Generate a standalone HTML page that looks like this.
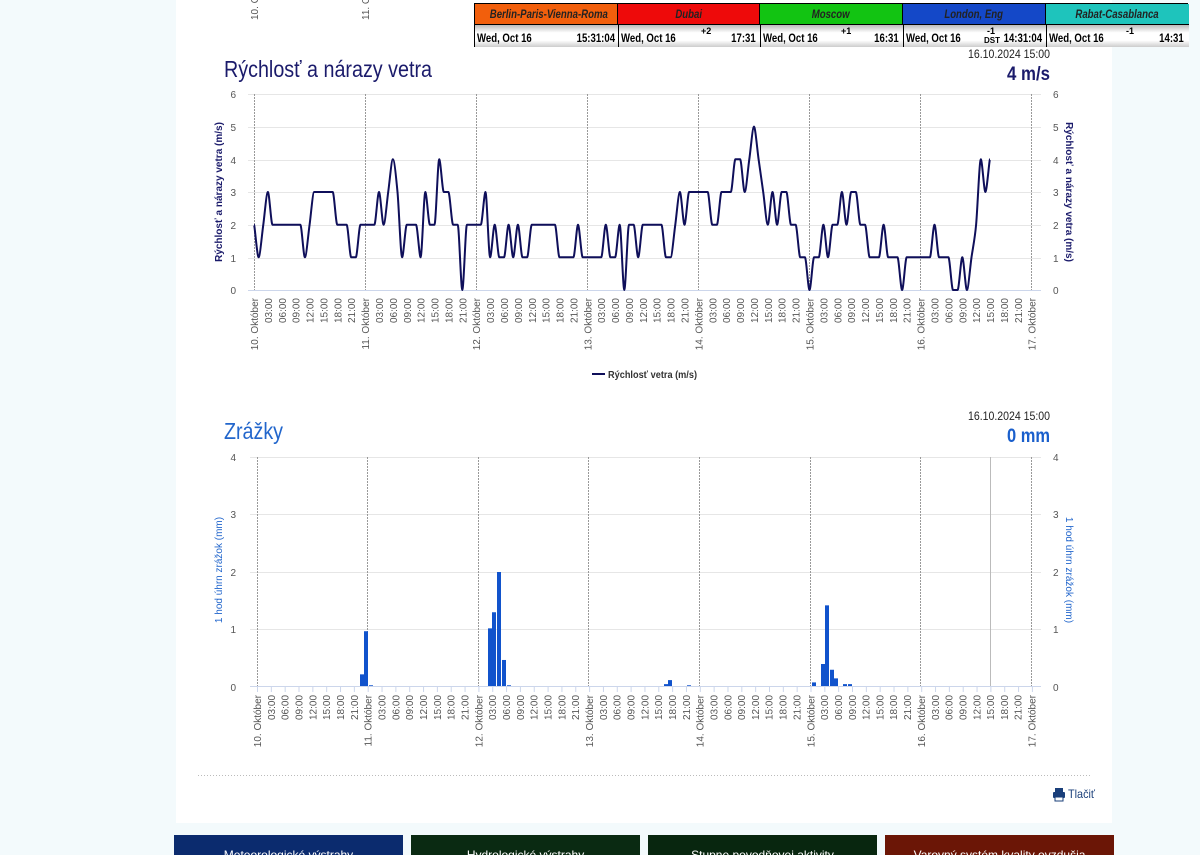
<!DOCTYPE html>
<html><head><meta charset="utf-8"><style>
html,body{margin:0;padding:0;}
body{width:1200px;height:850px;overflow:hidden;background:#f3fafc;font-family:"Liberation Sans",Arial,sans-serif;position:relative;}
#panel{position:absolute;left:176px;top:0;width:936px;height:823px;background:#fff;}
svg{position:absolute;left:0;top:0;}
.ax text{font-size:10px;fill:#555;}
.btn{position:absolute;top:835px;height:20px;width:229px;color:#fff;font-size:12px;text-align:center;line-height:40px;overflow:hidden;}
.clock{position:absolute;left:474px;top:3px;width:714px;height:44px;border:1px solid #000;box-sizing:border-box;}
.clock div{position:absolute;box-sizing:border-box;font-weight:bold;font-size:12px;white-space:nowrap;}
.clock span{display:inline-block;transform:scaleX(0.8);}
.n{transform:scaleX(0.8);transform-origin:left center;}
.nr{transform:scaleX(0.8);transform-origin:right center;}
</style></head><body>
<div id="panel"></div>
<div class="clock">
<div style="left:0;top:0;width:143px;height:20px;background:#f25f0c;font-style:italic;text-align:center;line-height:20px;color:#222;border-right:1px solid #000"><span>Berlin-Paris-Vienna-Roma</span></div>
<div style="left:143px;top:0;width:142px;height:20px;background:#ee0a0a;font-style:italic;text-align:center;line-height:20px;color:#222;border-right:1px solid #000"><span>Dubai</span></div>
<div style="left:285px;top:0;width:143px;height:20px;background:#12c412;font-style:italic;text-align:center;line-height:20px;color:#222;border-right:1px solid #000"><span>Moscow</span></div>
<div style="left:428px;top:0;width:143px;height:20px;background:#1448c8;font-style:italic;text-align:center;line-height:20px;color:#222;border-right:1px solid #000"><span>London, Eng</span></div>
<div style="left:571px;top:0;width:143px;height:20px;background:#1ec4bc;font-style:italic;text-align:center;line-height:20px;color:#222"><span>Rabat-Casablanca</span></div>
<div style="left:0;top:20px;width:714px;height:23px;border-top:1px solid #000;background:linear-gradient(#bbb,#fff 35%,#fff 70%,#ccc);"></div>
<div class="n" style="left:2px;top:27px;color:#000">Wed, Oct 16</div><div class="nr" style="right:572px;top:27px">15:31:04</div>
<div style="left:143px;top:20px;width:1px;height:23px;background:#000"></div>
<div class="n" style="left:146px;top:27px">Wed, Oct 16</div><div style="left:226px;top:22px;font-size:9px">+2</div><div class="nr" style="right:431px;top:27px">17:31</div>
<div style="left:285px;top:20px;width:1px;height:23px;background:#000"></div>
<div class="n" style="left:288px;top:27px">Wed, Oct 16</div><div style="left:366px;top:22px;font-size:9px">+1</div><div class="nr" style="right:288px;top:27px">16:31</div>
<div style="left:428px;top:20px;width:1px;height:23px;background:#000"></div>
<div class="n" style="left:431px;top:27px">Wed, Oct 16</div><div style="left:512px;top:22px;font-size:9px">-1</div><div style="left:509px;top:32px;font-size:8px">DST</div><div class="nr" style="right:145px;top:27px">14:31:04</div>
<div style="left:571px;top:20px;width:1px;height:23px;background:#000"></div>
<div class="n" style="left:574px;top:27px">Wed, Oct 16</div><div style="left:651px;top:22px;font-size:9px">-1</div><div class="nr" style="right:3px;top:27px">14:31</div>
</div>

<svg width="1200" height="850" xmlns="http://www.w3.org/2000/svg">
<g class="ax"><text transform="translate(258,20) rotate(-90)">10. Október</text><text transform="translate(369,20) rotate(-90)">11. Október</text></g>
<text x="224" y="77" font-size="23" fill="#1b1b6b" textLength="208" lengthAdjust="spacingAndGlyphs">Rýchlosť a nárazy vetra</text>
<text x="968" y="58" font-size="12" fill="#222" textLength="82" lengthAdjust="spacingAndGlyphs">16.10.2024 15:00</text>
<text x="1007" y="80" font-size="19" font-weight="bold" fill="#1b1b6b" textLength="43" lengthAdjust="spacingAndGlyphs">4 m/s</text>

<!-- chart 1 -->
<g stroke="#e6e6e6" stroke-width="1">
<line x1="248" x2="1041" y1="94.5" y2="94.5"/><line x1="248" x2="1041" y1="127.5" y2="127.5"/><line x1="248" x2="1041" y1="160.5" y2="160.5"/><line x1="248" x2="1041" y1="192.5" y2="192.5"/><line x1="248" x2="1041" y1="225.5" y2="225.5"/><line x1="248" x2="1041" y1="258.5" y2="258.5"/>
</g>
<g stroke="#999" stroke-dasharray="2,1">
<line x1="254.5" x2="254.5" y1="94" y2="290"/><line x1="365.5" x2="365.5" y1="94" y2="290"/><line x1="476.5" x2="476.5" y1="94" y2="290"/><line x1="587.5" x2="587.5" y1="94" y2="290"/><line x1="698.5" x2="698.5" y1="94" y2="290"/><line x1="809.5" x2="809.5" y1="94" y2="290"/><line x1="920.5" x2="920.5" y1="94" y2="290"/><line x1="1031.5" x2="1031.5" y1="94" y2="290"/>
</g>
<line x1="248" x2="1041" y1="290.5" y2="290.5" stroke="#ccd6eb"/>
<path id="wind" fill="none" stroke="#0f0f5a" stroke-width="2"/>
<g class="ax" text-anchor="end">
<text x="236" y="98">6</text><text x="236" y="131">5</text><text x="236" y="164">4</text><text x="236" y="196">3</text><text x="236" y="229">2</text><text x="236" y="262">1</text><text x="236" y="294">0</text>
</g>
<g class="ax" text-anchor="start">
<text x="1053" y="98">6</text><text x="1053" y="131">5</text><text x="1053" y="164">4</text><text x="1053" y="196">3</text><text x="1053" y="229">2</text><text x="1053" y="262">1</text><text x="1053" y="294">0</text>
</g>
<text transform="translate(222,192) rotate(-90)" text-anchor="middle" font-size="10" fill="#1b1b6b" font-weight="bold">Rýchlosť a nárazy vetra (m/s)</text>
<text transform="translate(1066,192) rotate(90)" text-anchor="middle" font-size="10" fill="#1b1b6b" font-weight="bold">Rýchlosť a nárazy vetra (m/s)</text>

<g class="ax" text-anchor="end" transform="translate(258,298)">
<g><text transform="rotate(-90)">10. Október</text><text transform="translate(13.9,0) rotate(-90)">03:00</text><text transform="translate(27.8,0) rotate(-90)">06:00</text><text transform="translate(41.7,0) rotate(-90)">09:00</text><text transform="translate(55.6,0) rotate(-90)">12:00</text><text transform="translate(69.4,0) rotate(-90)">15:00</text><text transform="translate(83.3,0) rotate(-90)">18:00</text><text transform="translate(97.2,0) rotate(-90)">21:00</text></g>
<g transform="translate(111.1,0)"><text transform="rotate(-90)">11. Október</text><text transform="translate(13.9,0) rotate(-90)">03:00</text><text transform="translate(27.8,0) rotate(-90)">06:00</text><text transform="translate(41.7,0) rotate(-90)">09:00</text><text transform="translate(55.6,0) rotate(-90)">12:00</text><text transform="translate(69.4,0) rotate(-90)">15:00</text><text transform="translate(83.3,0) rotate(-90)">18:00</text><text transform="translate(97.2,0) rotate(-90)">21:00</text></g>
<g transform="translate(222.2,0)"><text transform="rotate(-90)">12. Október</text><text transform="translate(13.9,0) rotate(-90)">03:00</text><text transform="translate(27.8,0) rotate(-90)">06:00</text><text transform="translate(41.7,0) rotate(-90)">09:00</text><text transform="translate(55.6,0) rotate(-90)">12:00</text><text transform="translate(69.4,0) rotate(-90)">15:00</text><text transform="translate(83.3,0) rotate(-90)">18:00</text><text transform="translate(97.2,0) rotate(-90)">21:00</text></g>
<g transform="translate(333.3,0)"><text transform="rotate(-90)">13. Október</text><text transform="translate(13.9,0) rotate(-90)">03:00</text><text transform="translate(27.8,0) rotate(-90)">06:00</text><text transform="translate(41.7,0) rotate(-90)">09:00</text><text transform="translate(55.6,0) rotate(-90)">12:00</text><text transform="translate(69.4,0) rotate(-90)">15:00</text><text transform="translate(83.3,0) rotate(-90)">18:00</text><text transform="translate(97.2,0) rotate(-90)">21:00</text></g>
<g transform="translate(444.4,0)"><text transform="rotate(-90)">14. Október</text><text transform="translate(13.9,0) rotate(-90)">03:00</text><text transform="translate(27.8,0) rotate(-90)">06:00</text><text transform="translate(41.7,0) rotate(-90)">09:00</text><text transform="translate(55.6,0) rotate(-90)">12:00</text><text transform="translate(69.4,0) rotate(-90)">15:00</text><text transform="translate(83.3,0) rotate(-90)">18:00</text><text transform="translate(97.2,0) rotate(-90)">21:00</text></g>
<g transform="translate(555.5,0)"><text transform="rotate(-90)">15. Október</text><text transform="translate(13.9,0) rotate(-90)">03:00</text><text transform="translate(27.8,0) rotate(-90)">06:00</text><text transform="translate(41.7,0) rotate(-90)">09:00</text><text transform="translate(55.6,0) rotate(-90)">12:00</text><text transform="translate(69.4,0) rotate(-90)">15:00</text><text transform="translate(83.3,0) rotate(-90)">18:00</text><text transform="translate(97.2,0) rotate(-90)">21:00</text></g>
<g transform="translate(666.6,0)"><text transform="rotate(-90)">16. Október</text><text transform="translate(13.9,0) rotate(-90)">03:00</text><text transform="translate(27.8,0) rotate(-90)">06:00</text><text transform="translate(41.7,0) rotate(-90)">09:00</text><text transform="translate(55.6,0) rotate(-90)">12:00</text><text transform="translate(69.4,0) rotate(-90)">15:00</text><text transform="translate(83.3,0) rotate(-90)">18:00</text><text transform="translate(97.2,0) rotate(-90)">21:00</text></g>
<text transform="translate(777.7,0) rotate(-90)">17. Október</text>
</g>
<line x1="592" x2="605" y1="374" y2="374" stroke="#0f0f5a" stroke-width="2"/>
<text x="608" y="378" font-size="10" font-weight="bold" fill="#333" textLength="89" lengthAdjust="spacingAndGlyphs">Rýchlosť vetra (m/s)</text>

<!-- chart 2 -->
<text x="224" y="439" font-size="23" fill="#2266cc" textLength="59" lengthAdjust="spacingAndGlyphs">Zrážky</text>
<text x="968" y="420" font-size="12" fill="#222" textLength="82" lengthAdjust="spacingAndGlyphs">16.10.2024 15:00</text>
<text x="1007" y="442" font-size="19" font-weight="bold" fill="#1a5fcc" textLength="43" lengthAdjust="spacingAndGlyphs">0 mm</text>
<g stroke="#e6e6e6">
<line x1="250" x2="1041" y1="457.5" y2="457.5"/><line x1="250" x2="1041" y1="514.5" y2="514.5"/><line x1="250" x2="1041" y1="572.5" y2="572.5"/><line x1="250" x2="1041" y1="629.5" y2="629.5"/>
</g>
<g stroke="#999" stroke-dasharray="2,1">
<line x1="257.5" x2="257.5" y1="457" y2="687"/><line x1="367.5" x2="367.5" y1="457" y2="687"/><line x1="478.5" x2="478.5" y1="457" y2="687"/><line x1="588.5" x2="588.5" y1="457" y2="687"/><line x1="699.5" x2="699.5" y1="457" y2="687"/><line x1="810.5" x2="810.5" y1="457" y2="687"/><line x1="920.5" x2="920.5" y1="457" y2="687"/><line x1="1031.5" x2="1031.5" y1="457" y2="687"/>
</g>
<line x1="990.5" x2="990.5" y1="457" y2="687" stroke="#bbb"/>
<g id="bars" fill="#1153cc"></g>
<line x1="250" x2="1041" y1="686.5" y2="686.5" stroke="#ccd6eb"/>
<g id="ticks" stroke="#ccd6eb"></g>
<g class="ax" text-anchor="end">
<text x="236" y="461">4</text><text x="236" y="518">3</text><text x="236" y="576">2</text><text x="236" y="633">1</text><text x="236" y="691">0</text>
</g>
<g class="ax">
<text x="1053" y="461">4</text><text x="1053" y="518">3</text><text x="1053" y="576">2</text><text x="1053" y="633">1</text><text x="1053" y="691">0</text>
</g>
<text transform="translate(222,570) rotate(-90)" text-anchor="middle" font-size="10" fill="#2266cc">1 hod úhrn zrážok (mm)</text>
<text transform="translate(1066,570) rotate(90)" text-anchor="middle" font-size="10" fill="#2266cc">1 hod úhrn zrážok (mm)</text>
<g class="ax" text-anchor="end" transform="translate(261,695) scale(0.996,1)">
<g><text transform="rotate(-90)">10. Október</text><text transform="translate(13.9,0) rotate(-90)">03:00</text><text transform="translate(27.8,0) rotate(-90)">06:00</text><text transform="translate(41.7,0) rotate(-90)">09:00</text><text transform="translate(55.6,0) rotate(-90)">12:00</text><text transform="translate(69.4,0) rotate(-90)">15:00</text><text transform="translate(83.3,0) rotate(-90)">18:00</text><text transform="translate(97.2,0) rotate(-90)">21:00</text></g>
<g transform="translate(111.1,0)"><text transform="rotate(-90)">11. Október</text><text transform="translate(13.9,0) rotate(-90)">03:00</text><text transform="translate(27.8,0) rotate(-90)">06:00</text><text transform="translate(41.7,0) rotate(-90)">09:00</text><text transform="translate(55.6,0) rotate(-90)">12:00</text><text transform="translate(69.4,0) rotate(-90)">15:00</text><text transform="translate(83.3,0) rotate(-90)">18:00</text><text transform="translate(97.2,0) rotate(-90)">21:00</text></g>
<g transform="translate(222.2,0)"><text transform="rotate(-90)">12. Október</text><text transform="translate(13.9,0) rotate(-90)">03:00</text><text transform="translate(27.8,0) rotate(-90)">06:00</text><text transform="translate(41.7,0) rotate(-90)">09:00</text><text transform="translate(55.6,0) rotate(-90)">12:00</text><text transform="translate(69.4,0) rotate(-90)">15:00</text><text transform="translate(83.3,0) rotate(-90)">18:00</text><text transform="translate(97.2,0) rotate(-90)">21:00</text></g>
<g transform="translate(333.3,0)"><text transform="rotate(-90)">13. Október</text><text transform="translate(13.9,0) rotate(-90)">03:00</text><text transform="translate(27.8,0) rotate(-90)">06:00</text><text transform="translate(41.7,0) rotate(-90)">09:00</text><text transform="translate(55.6,0) rotate(-90)">12:00</text><text transform="translate(69.4,0) rotate(-90)">15:00</text><text transform="translate(83.3,0) rotate(-90)">18:00</text><text transform="translate(97.2,0) rotate(-90)">21:00</text></g>
<g transform="translate(444.4,0)"><text transform="rotate(-90)">14. Október</text><text transform="translate(13.9,0) rotate(-90)">03:00</text><text transform="translate(27.8,0) rotate(-90)">06:00</text><text transform="translate(41.7,0) rotate(-90)">09:00</text><text transform="translate(55.6,0) rotate(-90)">12:00</text><text transform="translate(69.4,0) rotate(-90)">15:00</text><text transform="translate(83.3,0) rotate(-90)">18:00</text><text transform="translate(97.2,0) rotate(-90)">21:00</text></g>
<g transform="translate(555.5,0)"><text transform="rotate(-90)">15. Október</text><text transform="translate(13.9,0) rotate(-90)">03:00</text><text transform="translate(27.8,0) rotate(-90)">06:00</text><text transform="translate(41.7,0) rotate(-90)">09:00</text><text transform="translate(55.6,0) rotate(-90)">12:00</text><text transform="translate(69.4,0) rotate(-90)">15:00</text><text transform="translate(83.3,0) rotate(-90)">18:00</text><text transform="translate(97.2,0) rotate(-90)">21:00</text></g>
<g transform="translate(666.6,0)"><text transform="rotate(-90)">16. Október</text><text transform="translate(13.9,0) rotate(-90)">03:00</text><text transform="translate(27.8,0) rotate(-90)">06:00</text><text transform="translate(41.7,0) rotate(-90)">09:00</text><text transform="translate(55.6,0) rotate(-90)">12:00</text><text transform="translate(69.4,0) rotate(-90)">15:00</text><text transform="translate(83.3,0) rotate(-90)">18:00</text><text transform="translate(97.2,0) rotate(-90)">21:00</text></g>
<text transform="translate(777.7,0) rotate(-90)">17. Október</text>
</g>

<line x1="198" x2="1090" y1="775.5" y2="775.5" stroke="#bbb" stroke-dasharray="1,2"/>
<g fill="#1a3f7a"><rect x="1055" y="788" width="8" height="4"/><rect x="1053" y="792" width="12" height="6" rx="1"/><rect x="1055" y="797" width="8" height="4" fill="#fff" stroke="#1a3f7a"/></g>
<text x="1068" y="798" font-size="12" fill="#1a3f7a" textLength="27" lengthAdjust="spacingAndGlyphs">Tlačiť</text>
</svg>

<div class="btn" style="left:174px;background:#0b2b6e">Meteorologické výstrahy</div>
<div class="btn" style="left:411px;background:#0a2a12">Hydrologické výstrahy</div>
<div class="btn" style="left:648px;background:#08260f">Stupne povodňovej aktivity</div>
<div class="btn" style="left:885px;background:#6b1606">Varovný systém kvality ovzdušia</div>

<script>
var d=[2,1,2,3,2,2,2,2,2,2,2,1,2,3,3,3,3,3,2,2,2,1,1,2,
2,2,2,3,2,3,4,3,1,2,2,2,1,3,2,2,4,3,3,2,2,0,2,2,
2,2,3,1,2,1,1,2,1,2,1,1,2,2,2,2,2,2,1,1,1,1,2,1,
1,1,1,1,2,1,1,2,0,2,2,1,2,2,2,2,2,1,1,2,3,2,3,3,
3,3,3,2,2,3,3,3,4,4,3,4,5,4,3,2,3,2,3,3,2,2,1,1,
0,1,1,2,1,2,2,3,2,3,3,2,2,1,1,1,2,1,1,1,0,1,1,1,
1,1,1,2,1,1,1,0,0,1,0,1,2,4,3,4];
var hx=111.1/24,pts=d.map(function(v,i){return [254+i*hx,290-v*32.67];});
var p="M"+pts[0][0].toFixed(1)+","+pts[0][1].toFixed(1);
for(var i=0;i<pts.length-1;i++){var p0=pts[Math.max(0,i-1)],p1=pts[i],p2=pts[i+1],p3=pts[Math.min(pts.length-1,i+2)],t=0.3;
var c1=[p1[0]+(p2[0]-p0[0])*t/2,p1[1]+(p2[1]-p0[1])*t/2],c2=[p2[0]-(p3[0]-p1[0])*t/2,p2[1]-(p3[1]-p1[1])*t/2];
if((p1[1]-p0[1])*(p2[1]-p1[1])<=0)c1[1]=p1[1];if((p2[1]-p1[1])*(p3[1]-p2[1])<=0)c2[1]=p2[1];
p+=" C"+c1[0].toFixed(1)+","+c1[1].toFixed(1)+" "+c2[0].toFixed(1)+","+c2[1].toFixed(1)+" "+p2[0].toFixed(1)+","+p2[1].toFixed(1);}
document.getElementById("wind").setAttribute("d",p);
var b=[[362,0.22],[366,0.97],[371,0.03],[490,1.02],[494,1.3],[499,2.0],[504,0.47],[509,0.03],[666,0.05],[670,0.12],[689,0.03],[814,0.08],[823,0.4],[827,1.42],[832,0.3],[836,0.15],[845,0.05],[850,0.05]];
var g=document.getElementById("bars"),s="";
b.forEach(function(q){var h=q[1]*57.5;s+='<rect x="'+(q[0]-2)+'" y="'+(687-h)+'" width="4" height="'+h+'"/>';});
g.innerHTML=s;
var t="";for(var k=0;k<=56;k++){var x=257.5+k*110.7/8;t+='<line x1="'+x+'" x2="'+x+'" y1="687" y2="692"/>';}
document.getElementById("ticks").innerHTML=t;
</script>
</body></html>
